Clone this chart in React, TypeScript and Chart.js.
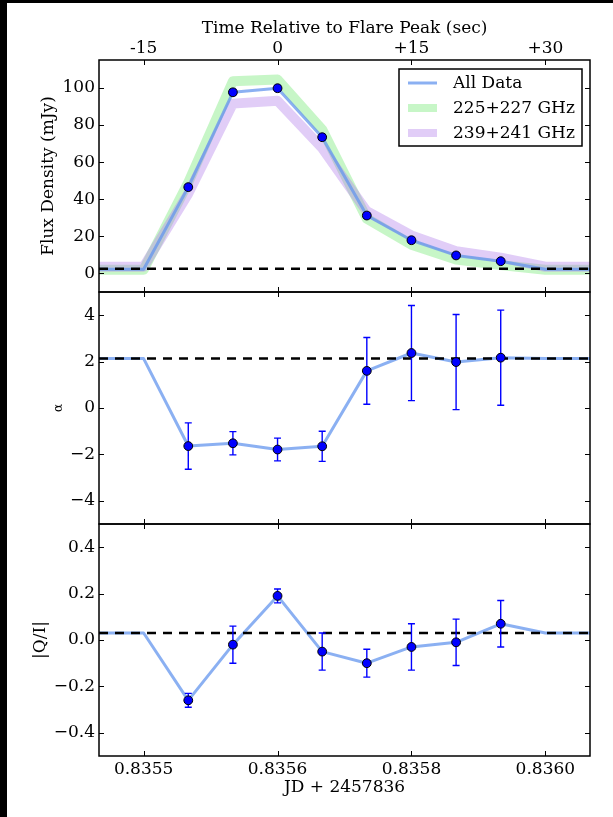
import React, { useEffect, useRef } from 'react';
import { Chart, registerables } from 'chart.js';

Chart.register(...registerables);

// ---------- data ----------
const pointTimes = [-10, -5, 0, 5, 10, 15, 20, 25];
const lineTimes = [-20, -15, -10, -5, 0, 5, 10, 15, 20, 25, 30, 35];
const timeRange = [-20, 35];

const fluxAll = [46.5, 97.6, 99.8, 73.4, 31.2, 17.9, 9.7, 6.6];
const fluxErr = [1.5, 1.5, 1.5, 1.5, 1.5, 1.5, 1.2, 1.2];
const fluxBaseline = 2.3;
const fluxDashed = 2.5;
const flux225 = [2.0, 2.0, 49, 103.5, 104.5, 77.5, 29.5, 15.5, 7.5, 4.5, 2.0, 2.0];
const flux239 = [3.6, 3.6, 43, 91.5, 93, 67.5, 33.5, 20.5, 12, 8.5, 3.6, 3.6];

const alphaVals = [-1.64, -1.52, -1.79, -1.65, 1.6, 2.37, 1.98, 2.17];
const alphaErr = [1.0, 0.5, 0.49, 0.65, 1.44, 2.05, 2.05, 2.05];
const alphaBaseline = 2.13;

const qiVals = [-0.26, -0.02, 0.19, -0.05, -0.1, -0.03, -0.01, 0.07];
const qiErr = [0.03, 0.08, 0.03, 0.08, 0.06, 0.1, 0.1, 0.1];
const qiBaseline = 0.03;

const tickSeconds = [-15, 0, 15, 30];
const topTickLabels = ['-15', '0', '+15', '+30'];
const bottomTickLabels = ['0.8355', '0.8356', '0.8358', '0.8360'];
const fluxTicks = [0, 20, 40, 60, 80, 100];
const alphaTicks = [-4, -2, 0, 2, 4];
const qiTicks = [-0.4, -0.2, 0, 0.2, 0.4];

// ---------- styling ----------
const FONT = "'DejaVu Serif', serif";
const FS = 17;
const fontMain = { family: FONT, size: FS };
const ALL_COLOR = 'rgba(100,149,237,0.75)';
const GREEN = 'rgba(144,238,144,0.5)';
const PURPLE = 'rgba(180,130,235,0.4)';
const MARK = '#0000ff';

const minus = (s: string) => s.replace('-', '\u2212');

const pts = (xs: number[], ys: number[]) => xs.map((x, i) => ({ x, y: ys[i] }));
const withEnds = (vals: number[], base: number) => [base, base, ...vals, base, base];

const errorBarPlugin = {
  id: 'errorBars',
  beforeDatasetDraw(chart: any, args: any) {
    const ds = chart.data.datasets[args.index];
    if (!ds.errors) return;
    const meta = args.meta;
    const xs = chart.scales[meta.xAxisID];
    const ys = chart.scales[meta.yAxisID];
    const ctx = chart.ctx;
    ctx.save();
    ctx.strokeStyle = MARK;
    ctx.lineWidth = 1.4;
    ctx.beginPath();
    ds.data.forEach((p: any, i: number) => {
      const e = ds.errors[i];
      const px = xs.getPixelForValue(p.x);
      const y1 = ys.getPixelForValue(p.y + e);
      const y2 = ys.getPixelForValue(p.y - e);
      ctx.moveTo(px, y1);
      ctx.lineTo(px, y2);
      ctx.moveTo(px - 3.5, y1);
      ctx.lineTo(px + 3.5, y1);
      ctx.moveTo(px - 3.5, y2);
      ctx.lineTo(px + 3.5, y2);
    });
    ctx.stroke();
    ctx.restore();
  },
};

const framePlugin = {
  id: 'panelFrames',
  afterDatasetsDraw(chart: any) {
    const { ctx, chartArea } = chart;
    const xs = chart.scales.x;
    ctx.save();
    ctx.strokeStyle = '#000';
    ['yFlux', 'yAlpha', 'yQI'].forEach((id) => {
      const s = chart.scales[id];
      ctx.lineWidth = 1;
      ctx.beginPath();
      s.ticks.forEach((t: any) => {
        const py = Math.round(s.getPixelForValue(t.value)) + 0.5;
        ctx.moveTo(chartArea.left, py);
        ctx.lineTo(chartArea.left + 5, py);
        ctx.moveTo(chartArea.right, py);
        ctx.lineTo(chartArea.right - 5, py);
      });
      xs.ticks.forEach((t: any) => {
        const px = Math.round(xs.getPixelForValue(t.value)) + 0.5;
        ctx.moveTo(px, s.top);
        ctx.lineTo(px, s.top + 5);
        ctx.moveTo(px, s.bottom);
        ctx.lineTo(px, s.bottom - 5);
      });
      ctx.stroke();
      ctx.lineWidth = 1.5;
      ctx.strokeRect(chartArea.left, s.top, chartArea.right - chartArea.left, s.bottom - s.top);
    });
    ctx.restore();
  },
};

const legendPlugin = {
  id: 'boxLegend',
  afterDraw(chart: any) {
    const { ctx, chartArea } = chart;
    const items = chart.data.datasets.filter((d: any) => d.label);
    const w = 183;
    const h = 77;
    const left = chartArea.right - 8 - w;
    const top = chartArea.top + 9;
    ctx.save();
    ctx.fillStyle = '#fff';
    ctx.fillRect(left, top, w, h);
    ctx.strokeStyle = '#000';
    ctx.lineWidth = 1.5;
    ctx.strokeRect(left, top, w, h);
    items.forEach((d: any, i: number) => {
      const y = top + 14 + i * 25;
      ctx.strokeStyle = d.borderColor;
      ctx.lineWidth = Math.min(d.borderWidth, 8);
      ctx.lineCap = 'butt';
      ctx.beginPath();
      ctx.moveTo(left + 9, y);
      ctx.lineTo(left + 38, y);
      ctx.stroke();
      ctx.fillStyle = '#000';
      ctx.font = `${FS}px ${FONT}`;
      ctx.textBaseline = 'middle';
      ctx.textAlign = 'left';
      ctx.fillText(d.label, left + 54, y + 1);
    });
    ctx.restore();
  },
};

function lineDs(extra: any) {
  return {
    type: 'line',
    xAxisID: 'x',
    pointRadius: 0,
    fill: false,
    tension: 0,
    clip: 0,
    borderCapStyle: 'butt',
    borderJoinStyle: 'round',
    ...extra,
  };
}

function markerDs(yAxisID: string, vals: number[], errs: number[]) {
  return {
    type: 'line',
    xAxisID: 'x',
    yAxisID,
    data: pts(pointTimes, vals),
    errors: errs,
    showLine: false,
    pointRadius: 4.4,
    pointBackgroundColor: MARK,
    pointBorderColor: '#000',
    pointBorderWidth: 1,
    order: 0,
    clip: 0,
  };
}

function yScale(weight: number, ticks: number[], min: number, max: number, fmt: (v: number) => string, title: string, titleSize: number, titlePad: number) {
  return {
    type: 'linear',
    position: 'left',
    stack: 'panels',
    stackWeight: 1,
    weight,
    min,
    max,
    afterBuildTicks: (s: any) => {
      s.ticks = ticks.map((v) => ({ value: v }));
    },
    afterFit: (s: any) => {
      s.width = 99;
    },
    grid: { display: false, drawTicks: false },
    border: { display: false },
    ticks: {
      autoSkip: false,
      padding: 4,
      color: '#000',
      font: fontMain,
      callback: (v: number) => fmt(v),
    },
    title: {
      display: true,
      text: title,
      color: '#000',
      font: { family: FONT, size: titleSize },
      padding: { top: titlePad, bottom: 0 },
    },
  };
}

export default function App() {
  const ref = useRef<HTMLCanvasElement | null>(null);

  useEffect(() => {
    if (!ref.current) return;
    const datasets: any[] = [
      // top panel
      lineDs({ label: 'All Data', yAxisID: 'yFlux', data: pts(lineTimes, withEnds(fluxAll, fluxBaseline)), borderColor: ALL_COLOR, borderWidth: 3, order: 2 }),
      lineDs({ label: '225+227 GHz', yAxisID: 'yFlux', data: pts(lineTimes, flux225), borderColor: GREEN, borderWidth: 10, order: 4 }),
      lineDs({ label: '239+241 GHz', yAxisID: 'yFlux', data: pts(lineTimes, flux239), borderColor: PURPLE, borderWidth: 10, order: 3 }),
      lineDs({ yAxisID: 'yFlux', data: pts(timeRange, [fluxDashed, fluxDashed]), borderColor: '#000', borderWidth: 2.5, borderDash: [9, 7], order: 1 }),
      markerDs('yFlux', fluxAll, fluxErr),
      // middle panel
      lineDs({ yAxisID: 'yAlpha', data: pts(lineTimes, withEnds(alphaVals, alphaBaseline)), borderColor: ALL_COLOR, borderWidth: 3, order: 2 }),
      lineDs({ yAxisID: 'yAlpha', data: pts(timeRange, [alphaBaseline, alphaBaseline]), borderColor: '#000', borderWidth: 2.5, borderDash: [9, 7], order: 1 }),
      markerDs('yAlpha', alphaVals, alphaErr),
      // bottom panel
      lineDs({ yAxisID: 'yQI', data: pts(lineTimes, withEnds(qiVals, qiBaseline)), borderColor: ALL_COLOR, borderWidth: 3, order: 2 }),
      lineDs({ yAxisID: 'yQI', data: pts(timeRange, [qiBaseline, qiBaseline]), borderColor: '#000', borderWidth: 2.5, borderDash: [9, 7], order: 1 }),
      markerDs('yQI', qiVals, qiErr),
    ];

    const chart = new Chart(ref.current, {
      type: 'line',
      data: { datasets },
      options: {
        responsive: false,
        maintainAspectRatio: false,
        animation: false,
        devicePixelRatio: 1,
        events: [],
        layout: { padding: { left: 0, right: 23, top: 0, bottom: 0 } },
        plugins: { legend: { display: false }, tooltip: { enabled: false } },
        scales: {
          x: {
            type: 'linear',
            position: 'bottom',
            min: timeRange[0],
            max: timeRange[1],
            afterBuildTicks: (s: any) => {
              s.ticks = tickSeconds.map((v) => ({ value: v }));
            },
            afterFit: (s: any) => {
              s.height = 61;
            },
            grid: { display: false, drawTicks: false },
            border: { display: false },
            ticks: {
              autoSkip: false,
              maxRotation: 0,
              padding: 3,
              color: '#000',
              font: fontMain,
              callback: (_v: any, i: number) => bottomTickLabels[i],
            },
            title: { display: true, text: 'JD + 2457836', color: '#000', font: fontMain, padding: { top: 0, bottom: 18.8 } },
          },
          xTop: {
            type: 'linear',
            axis: 'x',
            position: 'top',
            min: timeRange[0],
            max: timeRange[1],
            afterBuildTicks: (s: any) => {
              s.ticks = tickSeconds.map((v) => ({ value: v }));
            },
            afterFit: (s: any) => {
              s.height = 60;
            },
            grid: { display: false, drawTicks: false },
            border: { display: false },
            ticks: {
              autoSkip: false,
              maxRotation: 0,
              padding: 1,
              color: '#000',
              font: fontMain,
              callback: (_v: any, i: number) => topTickLabels[i],
            },
            title: { display: true, text: 'Time Relative to Flare Peak (sec)', color: '#000', font: fontMain, padding: { top: 18.8, bottom: 0 } },
          },
          yFlux: yScale(3, fluxTicks, -10, 115, (v) => minus(String(v)), 'Flux Density (mJy)', FS, 38.8),
          yAlpha: yScale(2, alphaTicks, -5, 5, (v) => minus(String(v)), 'α', 12, 51.4),
          yQI: yScale(1, qiTicks, -0.5, 0.5, (v) => minus(Number(v).toFixed(1)), '|Q/I|', FS, 30.8),
        } as any,
      },
      plugins: [errorBarPlugin, framePlugin, legendPlugin],
    } as any);

    return () => chart.destroy();
  }, []);

  return (
    <div style={{ position: 'fixed', left: 0, top: 0, width: 613, height: 817, background: '#fff', overflow: 'hidden' }}>
      <canvas ref={ref} width={613} height={817} style={{ position: 'absolute', left: 0, top: 0, width: 613, height: 817 }} />
      <div style={{ position: 'absolute', left: 0, top: 0, width: 7, height: 817, background: '#000' }} />
      <div style={{ position: 'absolute', left: 0, top: 0, width: 613, height: 3, background: '#000' }} />
    </div>
  );
}
